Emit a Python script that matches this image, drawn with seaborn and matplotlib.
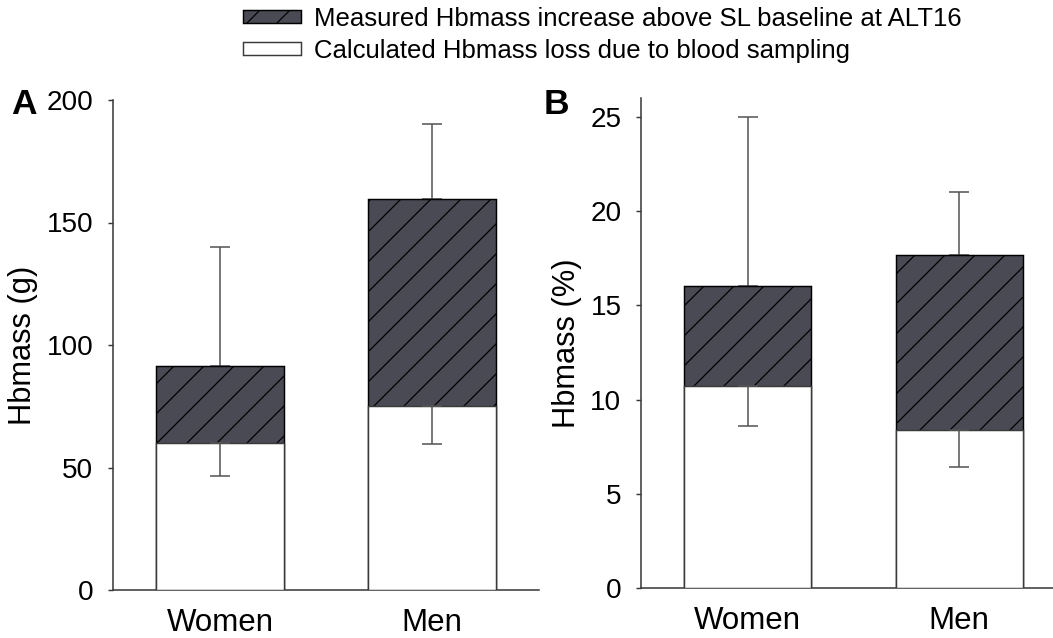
import matplotlib
matplotlib.use("Agg")
import matplotlib.pyplot as plt
import seaborn as sns
import numpy as np
from matplotlib.patches import Patch

# ---- data ----
categories = ["Women", "Men"]
# Panel A (g)
loss_g = [60.0, 75.0]          # calculated Hbmass loss due to blood sampling
total_g = [91.5, 159.5]        # top of stacked bar (loss + measured increase)
err_hi_g = [140.0, 190.0]      # upper whisker end
err_lo_g = [46.5, 59.5]        # lower whisker end
# Panel B (%)
loss_pct = [10.7, 8.4]
total_pct = [16.05, 17.7]
err_hi_pct = [25.0, 21.0]
err_lo_pct = [8.6, 6.4]

legend_labels = ["Measured Hbmass increase above SL baseline at ALT16",
                 "Calculated Hbmass loss due to blood sampling"]

DPI = 180
S = 150 / DPI  # size scale (values below tuned in px-equivalent at 150 dpi)

sns.set_theme(style="ticks")
plt.rcParams["font.family"] = ["Liberation Sans", "DejaVu Sans"]
plt.rcParams["hatch.linewidth"] = 0.6 * S
for k in ["text.color", "axes.labelcolor", "xtick.labelcolor", "ytick.labelcolor"]:
    plt.rcParams[k] = "black"

DARK = "#4a4a55"
EDGE = "#3a3a3a"
ERR = "#555555"

fig = plt.figure(figsize=(1053 / DPI, 638 / DPI), dpi=DPI)
axA = fig.add_axes([113 / 1053, 48 / 638, 426 / 1053, 490 / 638])
axB = fig.add_axes([641 / 1053, 50 / 638, 425 / 1053, 489.7 / 638])


def draw(ax, loss, total, hi, lo, ylim, yticks, ylabel):
    sns.barplot(x=categories, y=total, color=DARK, saturation=1, width=0.6,
                edgecolor="black", linewidth=0.7 * S, hatch="//", ax=ax, zorder=2)
    sns.barplot(x=categories, y=loss, color="white", saturation=1, width=0.6,
                edgecolor=EDGE, linewidth=0.7 * S, ax=ax, zorder=3)
    x = np.arange(len(categories))
    up = np.array(hi) - np.array(total)
    dn = np.array(loss) - np.array(lo)
    ax.errorbar(x, total, yerr=[np.zeros_like(up), up], fmt="none",
                ecolor=ERR, elinewidth=0.75 * S, capsize=5 * S, capthick=0.75 * S, zorder=1)
    ax.errorbar(x, loss, yerr=[dn, np.zeros_like(dn)], fmt="none",
                ecolor=ERR, elinewidth=0.75 * S, capsize=5 * S, capthick=0.75 * S, zorder=4)
    ax.set_xlim(-0.505, 1.505)
    ax.set_ylim(*ylim)
    ax.set_yticks(yticks)
    ax.set_xlabel("")
    ax.set_ylabel(ylabel, fontsize=14.8 * S, labelpad=4 * S)
    ax.tick_params(axis="y", length=2.4 * S, width=0.7 * S, color=EDGE,
                   labelsize=13.4 * S, pad=7 * S)
    ax.tick_params(axis="x", length=0, labelsize=15.0 * S, pad=8.5 * S)
    for s in ["top", "right"]:
        ax.spines[s].set_visible(False)
    for s in ["left", "bottom"]:
        ax.spines[s].set_linewidth(0.75 * S)
        ax.spines[s].set_color(EDGE)
    ax.set_facecolor("none")


draw(axA, loss_g, total_g, err_hi_g, err_lo_g, (0, 200), [0, 50, 100, 150, 200], "Hbmass (g)")
draw(axB, loss_pct, total_pct, err_hi_pct, err_lo_pct, (0, 26), [0, 5, 10, 15, 20, 25], "Hbmass (%)")

fig.text(11 / 1053, 1 - 114 / 638, "A", fontsize=17 * S, fontweight="bold", ha="left", va="baseline")
fig.text(544 / 1053, 1 - 114 / 638, "B", fontsize=17 * S, fontweight="bold", ha="left", va="baseline")

handles = [Patch(facecolor=DARK, edgecolor="black", hatch="//", linewidth=0.7 * S),
           Patch(facecolor="white", edgecolor=EDGE, linewidth=0.7 * S)]
fig.legend(handles, legend_labels, loc="upper left", bbox_to_anchor=(233 / 1053, 1.005),
           frameon=False, fontsize=12.35 * S, handlelength=2.26, handleheight=0.4,
           handletextpad=0.47, labelspacing=0.3, borderaxespad=0.0)

fig.savefig("out.png", dpi=DPI)
